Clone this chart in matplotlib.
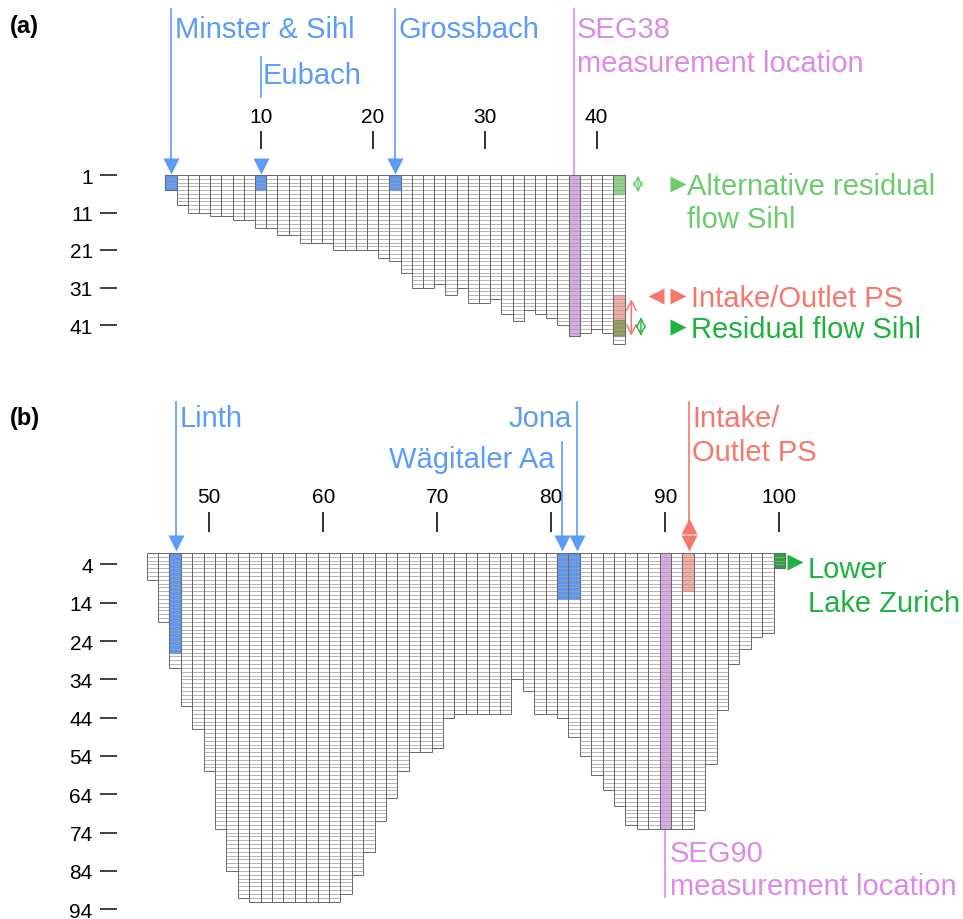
import matplotlib.pyplot as plt
from matplotlib.collections import LineCollection

plt.rcParams['font.family'] = ['Liberation Sans', 'DejaVu Sans']

# (a) river Sihl: segment numbers and number of layers per segment
seg_a = list(range(2, 43))
layers_a = [4, 8, 10, 10, 11, 11, 12, 12, 14, 14, 16, 16, 18, 18, 18, 20, 20, 20, 20, 22,
            23, 26, 30, 30, 29, 32, 30, 34, 34, 33, 37, 39, 36, 37, 38, 40, 43, 42, 41, 42, 45]
xticks_a = [10, 20, 30, 40]
yticks_a = [1, 11, 21, 31, 41]

# (b) Lake Zurich
seg_b = list(range(45, 101))
layers_b = [7, 18, 30, 40, 46, 57, 72, 83, 90, 91, 91, 91, 91, 91, 91, 91, 91,
            89, 84, 78, 70, 64, 57, 52, 52, 51, 43, 42, 42, 42, 42, 42,
            33, 36, 42, 42, 43, 48, 53, 58, 62, 66, 71, 72, 72, 72, 72, 72,
            67, 55, 41, 29, 25, 22, 21, 4]
xticks_b = [50, 60, 70, 80, 90, 100]
yticks_b = [4, 14, 24, 34, 44, 54, 64, 74, 84, 94]

# inflows / special segments
inflow_seg_a = [2, 10, 22]          # Minster & Sihl, Eubach, Grossbach
inflow_layers_a = 4
seg38 = 38
sihl_seg = 42
alt_residual_layers = (0, 5)
intake_layers_a = (32, 43)
residual_layers = (38.6, 43)

linth_seg, linth_layers = 47, 26
wag_seg, jona_seg, wag_jona_layers = 81, 82, 12
seg90 = 90
intake_seg_b, intake_layers_b = 92, 10
outlet_seg, outlet_layers = 100, 4

BLUE = '#5b9cf8'
BLUE_FILL = '#4a8cf2'
VIOLET = '#dc8ae6'
VIOLET_FILL = '#d49be2'
SALMON = '#f6786d'
LIGHT_GREEN = '#6ccc6c'
DARK_GREEN = '#1db33e'
FS = 21
DBL = '<->,head_length=0.5,head_width=0.25'


def draw_grid(ax, segs, layers):
    ax.bar(segs, layers, width=1, bottom=0, facecolor='none',
           edgecolor='#6a6a6a', linewidth=0.7, zorder=3)
    h = []
    for s, n in zip(segs, layers):
        for k in range(1, n):
            h.append([(s - 0.5, k), (s + 0.5, k)])
    ax.add_collection(LineCollection(h, colors='#a0a0a0', linewidths=0.55, zorder=2))


def fill(ax, s, top, bottom, color, alpha=0.9):
    ax.bar(s, bottom - top, bottom=top, width=1, color=color, alpha=alpha,
           edgecolor=color, linewidth=0.8, zorder=1)


def setup(ax, xticks, yticks, top_y, left_x, xlen):
    for sp in ax.spines.values():
        sp.set_visible(False)
    ax.xaxis.set_ticks_position('top')
    ax.spines['top'].set_position(('data', top_y))
    ax.spines['left'].set_position(('data', left_x))
    ax.set_xticks(xticks)
    ax.set_xticklabels([str(t) for t in xticks])
    ax.set_yticks([t - 1 for t in yticks])
    ax.set_yticklabels([str(t) for t in yticks])
    ax.tick_params(axis='x', direction='out', length=xlen, width=1.3,
                   color='#222222', labelsize=15, pad=4)
    ax.tick_params(axis='y', direction='out', length=12.5, width=1.3,
                   color='#333333', labelsize=15, pad=5)


fig = plt.figure(figsize=(9.63, 9.2), dpi=100)
H = 920.0

# ---------------- panel (a) ----------------
ax = fig.add_axes([0, 1 - 370 / H, 1, 370 / H])
ax.set_xlim(2 - 171 / 11.2, 2 + (963 - 171) / 11.2)
ax.set_ylim((370 - 176) / 3.75, -176 / 3.75)
setup(ax, xticks_a, yticks_a, -6.9, -2.82, 13)

draw_grid(ax, seg_a, layers_a)
for s in inflow_seg_a:
    fill(ax, s, 0, inflow_layers_a, BLUE_FILL)
fill(ax, seg38, 0, layers_a[seg_a.index(seg38)], VIOLET_FILL, 0.85)
fill(ax, sihl_seg, *alt_residual_layers, LIGHT_GREEN, 0.8)
fill(ax, sihl_seg, *intake_layers_a, '#f7877c', 0.7)
fill(ax, sihl_seg, *residual_layers, '#4f8f2a', 0.6)

# inflow arrows
for s in [inflow_seg_a[0], inflow_seg_a[2]]:
    ax.plot([s, s], [-44.3, -3], color=BLUE, lw=1.2)
ax.plot([inflow_seg_a[1], inflow_seg_a[1]], [-31.5, -20.8], color=BLUE, lw=1.2)
ax.plot(inflow_seg_a, [-2.27] * 3, 'v', color=BLUE, ms=11, mec='none')
ax.text(inflow_seg_a[0] + 0.36, -36.8, 'Minster & Sihl', color=BLUE, fontsize=FS)
ax.text(inflow_seg_a[1] + 0.2, -24.5, 'Eubach', color=BLUE, fontsize=FS)
ax.text(inflow_seg_a[2] + 0.27, -36.8, 'Grossbach', color=BLUE, fontsize=FS)

ax.plot([seg38, seg38], [-44.3, 0], color=VIOLET, lw=1.2)
ax.text(seg38 + 0.25, -36.8, 'SEG38', color=VIOLET, fontsize=FS)
ax.text(seg38 + 0.25, -27.7, 'measurement location', color=VIOLET, fontsize=FS)

# right hand annotations
ax.annotate('', xy=(43.7, 0.2), xytext=(43.7, 4.6),
            arrowprops=dict(arrowstyle=DBL, color=LIGHT_GREEN, lw=1.0,
                            mutation_scale=12, shrinkA=0, shrinkB=0))
ax.annotate('', xy=(43.1, 33.1), xytext=(43.1, 42.9),
            arrowprops=dict(arrowstyle=DBL, color=SALMON, lw=1.1,
                            mutation_scale=14, shrinkA=0, shrinkB=0))
ax.annotate('', xy=(43.96, 37.9), xytext=(43.96, 42.9),
            arrowprops=dict(arrowstyle=DBL, color=DARK_GREEN, lw=1.0,
                            mutation_scale=12, shrinkA=0, shrinkB=0))
ax.plot(47.3, 2.4, '>', color=LIGHT_GREEN, ms=11, mec='none')
ax.plot(45.3, 32.2, '<', color=SALMON, ms=11, mec='none')
ax.plot(47.3, 32.2, '>', color=SALMON, ms=11, mec='none')
ax.plot(47.3, 40.4, '>', color=DARK_GREEN, ms=11, mec='none')
ax.text(48.1, 5.07, 'Alternative residual', color=LIGHT_GREEN, fontsize=FS)
ax.text(48.1, 13.9, 'flow Sihl', color=LIGHT_GREEN, fontsize=FS)
ax.text(48.4, 34.9, 'Intake/Outlet PS', color=SALMON, fontsize=FS)
ax.text(48.4, 43.2, 'Residual flow Sihl', color=DARK_GREEN, fontsize=FS)

ax.text(-12.4, -38.1, '(a)', fontsize=17, fontweight='bold')

# ---------------- panel (b) ----------------
bx = fig.add_axes([0, 0, 1, 550 / H])
bx.set_xlim(47 - 175 / 11.4, 47 + (963 - 175) / 11.4)
bx.set_ylim((920 - 554) / 3.83, (370 - 554) / 3.83)
setup(bx, xticks_b, yticks_b, -5.48, 41.91, 14.5)

draw_grid(bx, seg_b, layers_b)
fill(bx, linth_seg, 0, linth_layers, BLUE_FILL)
fill(bx, wag_seg, 0, wag_jona_layers, BLUE_FILL)
fill(bx, jona_seg, 0, wag_jona_layers, BLUE_FILL)
fill(bx, seg90, 0, layers_b[seg_b.index(seg90)], VIOLET_FILL, 0.85)
fill(bx, intake_seg_b, 0, intake_layers_b, '#f7877c', 0.7)
fill(bx, outlet_seg, 0, outlet_layers, '#1f9e34', 0.95)

lx, wx, jx, ix = linth_seg + 0.09, wag_seg - 0.08, jona_seg + 0.26, intake_seg_b + 0.1
bx.plot([lx, lx], [-39.4, -3], color=BLUE, lw=1.2)
bx.plot([jx, jx], [-39.4, -3], color=BLUE, lw=1.2)
bx.plot([wx, wx], [-29.0, -3], color=BLUE, lw=1.2)
bx.plot([lx, wx, jx], [-2.6] * 3, 'v', color=BLUE, ms=11, mec='none')
bx.text(lx + 0.35, -33.2, 'Linth', color=BLUE, fontsize=FS)
bx.text(81.82, -33.2, 'Jona', color=BLUE, fontsize=FS, ha='right')
bx.text(80.25, -22.5, 'Wägitaler Aa', color=BLUE, fontsize=FS, ha='right')

bx.plot([ix, ix], [-39.4, -7.5], color=SALMON, lw=1.2)
bx.plot(ix, -7.1, '^', color=SALMON, ms=11, mec='none')
bx.plot(ix, -2.6, 'v', color=SALMON, ms=11, mec='none')
bx.text(92.35, -33.2, 'Intake/', color=SALMON, fontsize=FS)
bx.text(92.35, -24.3, 'Outlet PS', color=SALMON, fontsize=FS)

bx.plot(101.4, 2.35, '>', color=DARK_GREEN, ms=11, mec='none')
bx.text(102.53, 6.3, 'Lower', color=DARK_GREEN, fontsize=FS)
bx.text(102.53, 15.1, 'Lake Zurich', color=DARK_GREEN, fontsize=FS)

bx.plot([seg90, seg90], [layers_b[seg_b.index(seg90)], 89.8], color=VIOLET, lw=1.2)
bx.text(90.42, 80.4, 'SEG90', color=VIOLET, fontsize=FS)
bx.text(90.42, 89.0, 'measurement location', color=VIOLET, fontsize=FS)

bx.text(32.5, -33.7, '(b)', fontsize=17, fontweight='bold')

fig.savefig('out.png', dpi=100)
